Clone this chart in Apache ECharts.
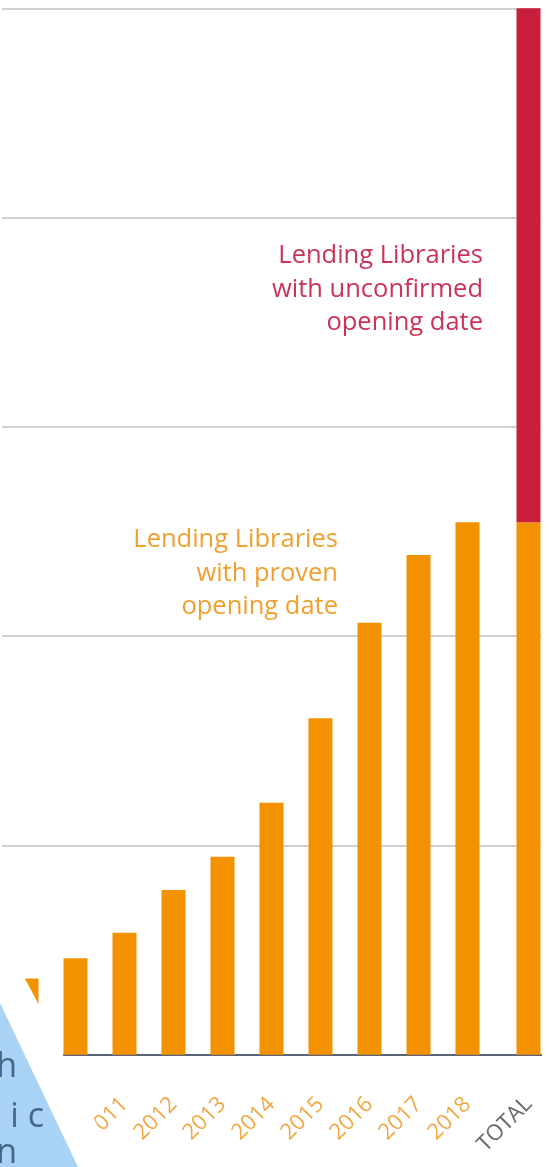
<!DOCTYPE html>
<html>
<head>
<meta charset="utf-8">
<script src="https://cdn.jsdelivr.net/npm/echarts@6/dist/echarts.min.js"></script>
<style>
  html, body { margin: 0; padding: 0; background: #ffffff; }
  #chart { width: 550px; height: 1167px; }
</style>
</head>
<body>
<div id="chart"></div>
<script>
// ---- data ----
const years = ['2009', '2010', '2011', '2012', '2013', '2014', '2015', '2016', '2017', '2018'];
const provenValues = [36.5, 46.1, 58.3, 78.7, 94.6, 120.4, 160.8, 206.4, 238.8, 254.5];
const totalCategory = ['TOTAL'];
const totalProven = [254.5];
const totalUnconfirmed = [245.5];
const yMin = 0;
const yMax = 500;
const yInterval = 100;

const ORANGE = '#f39200';
const RED = '#c8203c';
const FONT = 'Open Sans';

const chart = echarts.init(document.getElementById('chart'), null, { renderer: 'canvas' });

const gridTop = 8.3;
const gridBottom = 112.2;

const option = {
  animation: false,
  backgroundColor: '#ffffff',
  grid: [
    { left: 2, right: 9, top: gridTop, bottom: gridBottom, containLabel: false, outerBoundsMode: 'none' },
    { left: 516, right: 9, top: gridTop, bottom: gridBottom, containLabel: false, outerBoundsMode: 'none' }
  ],
  xAxis: [
    {
      type: 'category', gridIndex: 0,
      data: years.concat(['']),
      axisLine: { show: true, lineStyle: { color: '#5b6378', width: 2 } },
      axisTick: { show: false },
      axisLabel: { rotate: 45, margin: 46, color: '#f0a845', fontSize: 22, fontFamily: FONT, interval: 0 }
    },
    {
      type: 'category', gridIndex: 1,
      data: totalCategory,
      axisLine: { show: true, lineStyle: { color: '#5b6378', width: 2 } },
      axisTick: { show: false },
      axisLabel: { rotate: 45, margin: 46, color: '#6a6a6a', fontSize: 22, fontFamily: FONT, interval: 0 }
    }
  ],
  yAxis: [
    {
      type: 'value', gridIndex: 0, min: yMin, max: yMax, interval: yInterval,
      axisLine: { show: false }, axisTick: { show: false }, axisLabel: { show: false },
      splitLine: { show: true, lineStyle: { color: '#d0d0d0', width: 2 } }
    },
    {
      type: 'value', gridIndex: 1, min: yMin, max: yMax, interval: yInterval,
      axisLine: { show: false }, axisTick: { show: false }, axisLabel: { show: false },
      splitLine: { show: false }
    }
  ],
  series: [
    {
      type: 'bar', xAxisIndex: 0, yAxisIndex: 0,
      data: provenValues, barWidth: 24,
      itemStyle: { color: ORANGE }
    },
    {
      type: 'bar', xAxisIndex: 1, yAxisIndex: 1, stack: 'total',
      data: totalProven, barWidth: 24,
      itemStyle: { color: ORANGE }
    },
    {
      type: 'bar', xAxisIndex: 1, yAxisIndex: 1, stack: 'total',
      data: totalUnconfirmed, barWidth: 24,
      itemStyle: { color: RED }
    }
  ],
  graphic: [
    {
      type: 'text', x: 483, y: 239, z: 50,
      style: {
        text: 'Lending Libraries\nwith unconfirmed\nopening date',
        fill: '#cc3358', fontSize: 25.5, fontFamily: FONT, lineHeight: 33.5,
        align: 'right', verticalAlign: 'top'
      }
    },
    {
      type: 'text', x: 338, y: 523, z: 50,
      style: {
        text: 'Lending Libraries\nwith proven\nopening date',
        fill: '#f0a030', fontSize: 25.5, fontFamily: FONT, lineHeight: 33.5,
        align: 'right', verticalAlign: 'top'
      }
    },
    {
      type: 'polygon', z: 100,
      shape: { points: [[0, 930], [23, 975], [39, 1005], [62, 1053], [101, 1133], [114, 1167], [0, 1167]] },
      style: { fill: '#ffffff' }
    },
    {
      type: 'polygon', z: 101,
      shape: { points: [[0, 1003], [78, 1167], [0, 1167]] },
      style: { fill: '#a9d3f5' }
    },
    {
      type: 'text', x: 17, y: 1067, z: 102,
      style: { text: 'h', fill: '#44678a', fontSize: 34, fontFamily: FONT, align: 'right', verticalAlign: 'middle' }
    },
    {
      type: 'text', x: 44, y: 1117, z: 102,
      style: { text: 'i c', fill: '#44678a', fontSize: 34, fontFamily: FONT, align: 'right', verticalAlign: 'middle' }
    },
    {
      type: 'text', x: 17, y: 1153, z: 102,
      style: { text: 'n', fill: '#44678a', fontSize: 34, fontFamily: FONT, align: 'right', verticalAlign: 'middle' }
    }
  ]
};

chart.setOption(option);
</script>
</body>
</html>
